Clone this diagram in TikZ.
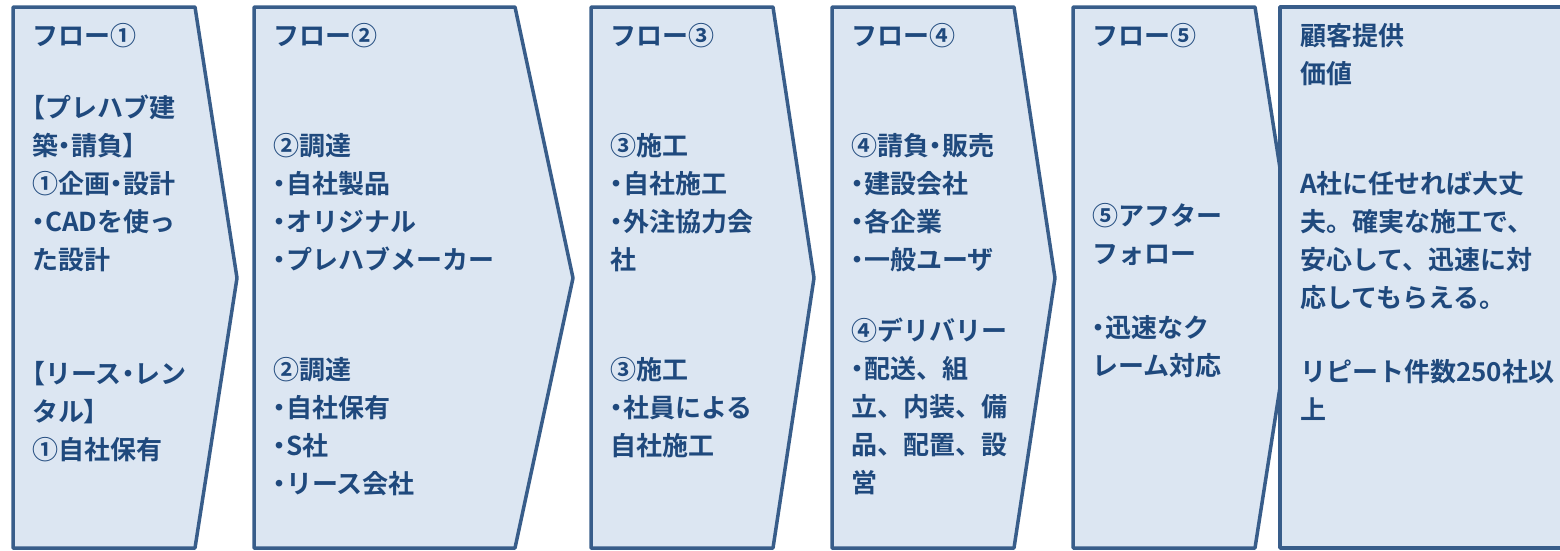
\documentclass[tikz,border=0pt]{standalone}
\usepackage{fontspec}
\setmainfont{Noto Sans CJK JP}[BoldFont={* Bold}]
\newfontfamily\jpbold{Noto Sans CJK JP Bold}
\newfontfamily\jppalt{Noto Sans CJK JP Bold}[RawFeature=+palt]
\newcommand\dt{{\jppalt ・}}
\newcommand\lbk{{\jppalt 【}}
\newcommand\rbk{{\jppalt 】}}
\definecolor{boxfill}{HTML}{DCE6F2}
\definecolor{boxline}{HTML}{385D8A}
\definecolor{txt}{HTML}{1F497D}
\tikzset{
  flowshape/.style={draw=boxline, fill=boxfill, line width=3.5pt, line join=round},
  flowtext/.style={anchor=north west, inner sep=0pt, align=left, text=txt,
    font=\jpbold\fontsize{26}{38}\selectfont, text depth=0pt}
}
\begin{document}
\begin{tikzpicture}[x=1pt,y=-1pt]
\useasboundingbox (0,0) rectangle (1560,550);
% shapes
\draw[flowshape] (13,7) -- (195,7) -- (237,278) -- (195,548) -- (13,548) -- cycle;
\draw[flowshape] (254,7) -- (515,7) -- (573,278) -- (515,548) -- (254,548) -- cycle;
\draw[flowshape] (591,7) -- (773,7) -- (814,278) -- (773,548) -- (591,548) -- cycle;
\draw[flowshape] (832,7) -- (1014,7) -- (1055,278) -- (1014,548) -- (832,548) -- cycle;
\draw[flowshape] (1073,7) -- (1255,7) -- (1297,278) -- (1255,548) -- (1073,548) -- cycle;
\draw[flowshape] (1280,7) rectangle (1580,548);
% texts
\node[flowtext] (t1a) at (32,23) {フロー①};
\node[flowtext] (t1b) at (32,95) {\lbk プレハブ建\\築\dt 請負\rbk\\①企画\dt 設計\\\dt CADを使っ\\た設計};
\node[flowtext] (t1c) at (32,361) {\lbk リース\dt レン\\タル\rbk\\①自社保有};
\node[flowtext] (t2a) at (273,23) {フロー②};
\node[flowtext] (t2b) at (273,133) {②調達\\\dt 自社製品\\\dt オリジナル\\\dt プレハブメーカー};
\node[flowtext] (t2c) at (273,357) {②調達\\\dt 自社保有\\\dt S社\\\dt リース会社};
\node[flowtext] (t3a) at (610,23) {フロー③};
\node[flowtext] (t3b) at (610,133) {③施工\\\dt 自社施工\\\dt 外注協力会\\社};
\node[flowtext] (t3c) at (610,357) {③施工\\\dt 社員による\\自社施工};
\node[flowtext] (t4a) at (851,23) {フロー④};
\node[flowtext] (t4b) at (851,133) {④請負\dt 販売\\\dt 建設会社\\\dt 各企業\\\dt 一般ユーザ};
\node[flowtext] (t4c) at (851,318) {④デリバリー\\\dt 配送、組\\立、内装、備\\品、配置、設\\営};
\node[flowtext] (t5a) at (1092,23) {フロー⑤};
\node[flowtext] (t5b) at (1092,203) {⑤アフター\\フォロー};
\node[flowtext] (t5c) at (1092,315) {\dt 迅速なク\\レーム対応};
\node[flowtext] (t6a) at (1300,23) {顧客提供\\価値};
\node[flowtext] (t6b) at (1300,171) {A社に任せれば大丈\\夫。確実な施工で、\\安心して、迅速に対\\応してもらえる。};
\node[flowtext] (t6c) at (1300,359) {リピート件数250社以\\上};
\end{tikzpicture}
\end{document}
